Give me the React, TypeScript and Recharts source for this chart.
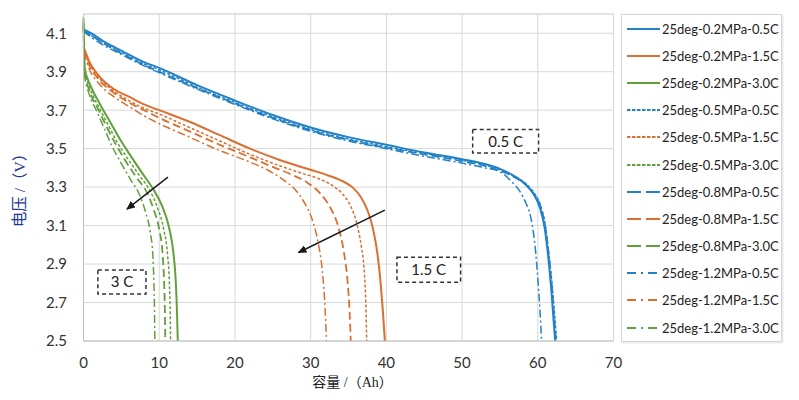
import React from 'react';
import {
  LineChart,
  Line,
  XAxis,
  YAxis,
  CartesianGrid,
  ReferenceLine,
  ReferenceArea,
  Legend,
} from 'recharts';

type Pt = [number, number];

// capacity (Ah), voltage (V)
const blue02: Pt[] = [[0,4.12],[1,4.10],[3,4.05],[5,4.01],[8,3.95],[10,3.92],[15,3.83],[20,3.75],[25,3.675],[30,3.61],[35,3.56],[40,3.52],[45,3.48],[50,3.445],[53,3.42],[55,3.395],[57,3.355],[58.5,3.31],[59.5,3.26],[60.3,3.19],[60.9,3.09],[61.4,2.93],[61.8,2.76],[62.1,2.6],[62.3,2.5]];
const blue05: Pt[] = [[0,4.12],[1,4.09],[3,4.04],[5,4.0],[8,3.94],[10,3.91],[15,3.82],[20,3.74],[25,3.665],[30,3.6],[35,3.55],[40,3.51],[45,3.475],[50,3.44],[53,3.415],[55,3.39],[57,3.355],[58.5,3.315],[59.5,3.27],[60.4,3.2],[61.0,3.1],[61.5,2.94],[61.95,2.77],[62.3,2.6],[62.5,2.5]];
const blue08: Pt[] = [[0,4.11],[1,4.09],[3,4.04],[5,3.995],[8,3.935],[10,3.9],[15,3.815],[20,3.735],[25,3.66],[30,3.595],[35,3.545],[40,3.505],[45,3.47],[50,3.435],[53,3.41],[55,3.385],[57,3.35],[58.5,3.31],[59.5,3.265],[60.4,3.195],[61.0,3.09],[61.5,2.93],[61.9,2.76],[62.2,2.6],[62.4,2.5]];
const blue12: Pt[] = [[0,4.11],[1,4.08],[3,4.03],[5,3.99],[8,3.93],[10,3.895],[15,3.81],[20,3.73],[25,3.655],[30,3.59],[35,3.54],[40,3.5],[45,3.46],[50,3.425],[53,3.4],[55,3.38],[56.5,3.33],[57.6,3.28],[58.4,3.22],[58.9,3.17],[59.4,3.07],[59.75,2.95],[60.05,2.8],[60.3,2.65],[60.5,2.5]];

const orange02: Pt[] = [[0,4.03],[0.8,3.95],[2,3.88],[4,3.81],[6,3.77],[8,3.73],[10,3.7],[14,3.64],[18,3.57],[22,3.5],[26,3.44],[30,3.39],[32,3.365],[34,3.335],[35.5,3.3],[36.6,3.25],[37.5,3.18],[38.2,3.09],[38.8,2.96],[39.25,2.8],[39.55,2.65],[39.8,2.5]];
const orange05: Pt[] = [[0,4.02],[0.8,3.94],[2,3.87],[4,3.8],[6,3.75],[8,3.71],[10,3.68],[14,3.61],[18,3.54],[22,3.47],[26,3.41],[29,3.37],[31,3.345],[32.8,3.31],[34.2,3.265],[35.3,3.2],[36.1,3.11],[36.7,2.99],[37.1,2.85],[37.3,2.68],[37.4,2.5]];
const orange08: Pt[] = [[0,4.01],[0.8,3.93],[2,3.86],[4,3.79],[6,3.74],[8,3.7],[10,3.66],[14,3.59],[18,3.52],[22,3.455],[25,3.405],[27.5,3.365],[29.5,3.325],[31.2,3.27],[32.5,3.2],[33.6,3.1],[34.4,2.96],[34.9,2.8],[35.15,2.65],[35.3,2.5]];
const orange12: Pt[] = [[0,4.0],[0.8,3.91],[2,3.84],[4,3.77],[6,3.72],[8,3.67],[10,3.63],[14,3.56],[18,3.49],[22,3.43],[24.5,3.385],[26.5,3.335],[28,3.285],[29.3,3.21],[30.3,3.12],[31.0,3.01],[31.5,2.88],[31.85,2.71],[32.1,2.5]];

const green02: Pt[] = [[0,4.18],[0.15,3.92],[0.9,3.83],[2.2,3.73],[3.5,3.64],[4.8,3.55],[6.1,3.47],[7.8,3.37],[9.2,3.29],[10.4,3.2],[11.3,3.09],[11.9,2.95],[12.2,2.8],[12.35,2.65],[12.45,2.5]];
const green05: Pt[] = [[0,4.16],[0.15,3.91],[0.9,3.81],[2.1,3.71],[3.3,3.62],[4.5,3.53],[5.8,3.45],[7.4,3.36],[8.8,3.28],[9.8,3.19],[10.6,3.08],[11.1,2.95],[11.35,2.8],[11.45,2.65],[11.5,2.5]];
const green08: Pt[] = [[0,4.15],[0.15,3.9],[0.8,3.8],[2.0,3.7],[3.1,3.61],[4.3,3.52],[5.5,3.44],[7.0,3.35],[8.4,3.27],[9.3,3.18],[10.0,3.08],[10.45,2.95],[10.65,2.8],[10.75,2.65],[10.8,2.5]];
const green12: Pt[] = [[0,4.14],[0.15,3.88],[0.7,3.79],[1.8,3.69],[2.8,3.6],[3.8,3.51],[4.9,3.43],[6.2,3.34],[7.4,3.26],[8.2,3.17],[8.8,3.07],[9.15,2.95],[9.3,2.8],[9.38,2.65],[9.42,2.5]];

const xTicks = [0, 10, 20, 30, 40, 50, 60, 70];
const yTicks = [2.5, 2.7, 2.9, 3.1, 3.3, 3.5, 3.7, 3.9, 4.1];

const BLUE = '#2382C6';
const ORANGE = '#DA7030';
const GREEN = '#62A03D';

const SOLID = undefined;
const DOT = '3 2';
const DASH = '8 4';
const DASHDOT = '8 3 2 3';

const LEG_DOT = '3.5 1.5';
const LEG_DASH = '14 5';
const LEG_DASHDOT = '9 5 2 5';

const series = [
  { name: '25deg-0.2MPa-0.5C', pts: blue02, color: BLUE, dash: SOLID, leg: SOLID, w: 2 },
  { name: '25deg-0.2MPa-1.5C', pts: orange02, color: ORANGE, dash: SOLID, leg: SOLID, w: 2 },
  { name: '25deg-0.2MPa-3.0C', pts: green02, color: GREEN, dash: SOLID, leg: SOLID, w: 2 },
  { name: '25deg-0.5MPa-0.5C', pts: blue05, color: BLUE, dash: DOT, leg: LEG_DOT, w: 1.5 },
  { name: '25deg-0.5MPa-1.5C', pts: orange05, color: ORANGE, dash: DOT, leg: LEG_DOT, w: 1.5 },
  { name: '25deg-0.5MPa-3.0C', pts: green05, color: GREEN, dash: DOT, leg: LEG_DOT, w: 1.5 },
  { name: '25deg-0.8MPa-0.5C', pts: blue08, color: BLUE, dash: DASH, leg: LEG_DASH, w: 1.8 },
  { name: '25deg-0.8MPa-1.5C', pts: orange08, color: ORANGE, dash: DASH, leg: LEG_DASH, w: 1.8 },
  { name: '25deg-0.8MPa-3.0C', pts: green08, color: GREEN, dash: DASH, leg: LEG_DASH, w: 1.8 },
  { name: '25deg-1.2MPa-0.5C', pts: blue12, color: BLUE, dash: DASHDOT, leg: LEG_DASHDOT, w: 1.5 },
  { name: '25deg-1.2MPa-1.5C', pts: orange12, color: ORANGE, dash: DASHDOT, leg: LEG_DASHDOT, w: 1.5 },
  { name: '25deg-1.2MPa-3.0C', pts: green12, color: GREEN, dash: DASHDOT, leg: LEG_DASHDOT, w: 1.5 },
];

const toData = (pts: Pt[]) => pts.map(([x, v]) => ({ x, v }));

const renderLegend = () => (
  <div
    style={{
      width: 161,
      height: 328,
      border: '1px solid #d6d6d6',
      background: '#fff',
      boxSizing: 'border-box',
      boxShadow: '1px 1px 2px rgba(0,0,0,0.12)',
    }}
  >
    {series.map((s) => (
      <div key={s.name} style={{ height: 27.2, display: 'flex', alignItems: 'center' }}>
        <svg width={33} height={6} style={{ marginLeft: 5, flex: 'none' }}>
          <line x1={0} y1={3} x2={33} y2={3} stroke={s.color} strokeWidth={2} strokeDasharray={s.leg} />
        </svg>
        <span style={{ marginLeft: 2, fontFamily: 'Lato', fontSize: 13, color: '#222', whiteSpace: 'nowrap' }}>
          {s.name}
        </span>
      </div>
    ))}
  </div>
);

const boxStyle = {
  fill: '#fff',
  fillOpacity: 1,
  stroke: '#333',
  strokeDasharray: '4 3',
  strokeWidth: 1.5,
  ifOverflow: 'visible' as const,
};

const boxLabel = (value: string) => ({
  value,
  position: 'center' as const,
  fill: '#222',
  fontSize: 15,
  fontFamily: 'Lato',
});

export default function App() {
  return (
    <div style={{ position: 'absolute', left: 0, top: 0 }}>
      <LineChart width={799} height={400} margin={{ top: 14, right: 185.5, bottom: 0, left: 0 }}>
        <defs>
          <marker
            id="arrowHead"
            markerWidth="9"
            markerHeight="8"
            refX="8"
            refY="4"
            orient="auto"
            markerUnits="userSpaceOnUse"
          >
            <path d="M0,0 L9,4 L0,8 Z" fill="#1a1a1a" />
          </marker>
        </defs>
        <CartesianGrid stroke="#d9d9d9" strokeWidth={1} />
        <XAxis
          dataKey="x"
          type="number"
          domain={[0, 70]}
          ticks={xTicks}
          height={59}
          tickLine={false}
          tickMargin={10}
          axisLine={{ stroke: '#bfbfbf' }}
          tick={{ fill: '#333', fontSize: 15, fontFamily: 'Lato' }}
          label={{
            value: '容量 /（Ah）',
            position: 'center',
            dy: 12,
            dx: 4,
            fill: '#222',
            fontSize: 14,
            fontFamily: "'Liberation Serif', 'Noto Sans CJK SC'",
          }}
        />
        <YAxis
          dataKey="v"
          type="number"
          domain={[2.5, 4.2]}
          ticks={yTicks}
          width={83.5}
          tickLine={false}
          tickMargin={10.5}
          allowDataOverflow
          axisLine={{ stroke: '#bfbfbf' }}
          tickFormatter={(v: number) => v.toFixed(1)}
          tick={{ fill: '#333', fontSize: 15, fontFamily: 'Lato' }}
          label={{
            value: '电压 /（V）',
            angle: -90,
            position: 'center',
            dx: -22,
            dy: 9,
            fill: '#1F3A93',
            fontSize: 15.5,
            fontFamily: "'Liberation Serif', 'Noto Sans CJK SC'",
          }}
        />
        <ReferenceLine y={4.2} stroke="#d9d9d9" />
        {series.map((s) => (
          <Line
            key={s.name}
            name={s.name}
            data={toData(s.pts)}
            dataKey="v"
            type="monotone"
            stroke={s.color}
            strokeWidth={s.w}
            strokeDasharray={s.dash}
            dot={false}
            activeDot={false}
            isAnimationActive={false}
          />
        ))}
        <ReferenceArea x1={51.4} x2={60.1} y1={3.477} y2={3.6} {...boxStyle} label={boxLabel('0.5 C')} />
        <ReferenceArea x1={41.4} x2={49.8} y1={2.806} y2={2.936} {...boxStyle} label={boxLabel('1.5 C')} />
        <ReferenceArea x1={1.9} x2={8.25} y1={2.744} y2={2.869} {...boxStyle} label={boxLabel('3 C')} />
        <ReferenceLine
          segment={[{ x: 11.15, y: 3.352 }, { x: 5.74, y: 3.186 }]}
          stroke="#1a1a1a"
          strokeWidth={1.5}
          markerEnd="url(#arrowHead)"
        />
        <ReferenceLine
          segment={[{ x: 39.8, y: 3.18 }, { x: 28.4, y: 2.96 }]}
          stroke="#1a1a1a"
          strokeWidth={1.5}
          markerEnd="url(#arrowHead)"
        />
        <Legend
          layout="vertical"
          align="center"
          verticalAlign="middle"
          content={renderLegend}
          wrapperStyle={{ left: 621, top: 14, width: 161, height: 328 }}
        />
      </LineChart>
    </div>
  );
}
